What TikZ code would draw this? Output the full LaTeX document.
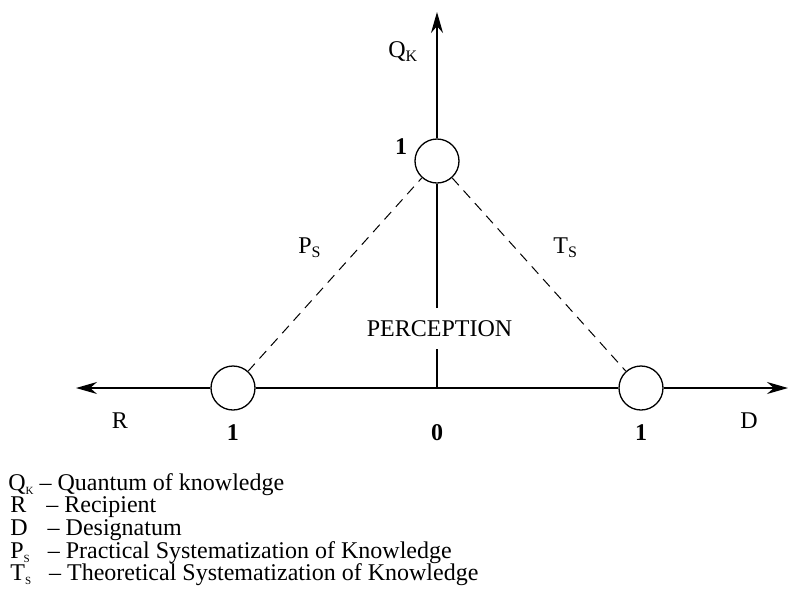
\documentclass[tikz,border=0pt]{standalone}
\usepackage{fontspec}
\setmainfont{Liberation Serif}
\usetikzlibrary{arrows.meta}
\newcommand{\lowsub}[2][8]{\raisebox{-2pt}{\fontsize{#1}{#1}\selectfont #2}}
\begin{document}
\begin{tikzpicture}[x=0.5pt, y=-0.5pt, line join=round, >={Stealth[length=10.5pt,width=6pt]}, font=\fontsize{12}{14}\selectfont,
		ring/.style={circle, draw, minimum size=22pt, inner sep=0pt, line width=0.65pt},
		axisline/.style={line width=0.65pt},
		dashlink/.style={dash pattern=on 5pt off 3.5pt, line width=0.5pt},
		num/.style={font=\fontsize{12}{14}\selectfont\bfseries},
		legend/.style={anchor=base west, inner sep=0pt}]
	\useasboundingbox (0,0) rectangle (789,596);
	% ends of the axes
	\coordinate (o) at (437,388);
	\coordinate (rend) at (76,388);
	\coordinate (dend) at (788,388);
	\coordinate (qend) at (437,12);
	% the three circles
	\node[ring] (tc) at (437,161) {};
	\node[ring] (lc) at (233,388) {};
	\node[ring] (rc) at (641,388) {};
	\node[inner xsep=0pt, inner ysep=6pt] (perc) at (439.5,328.5) {PERCEPTION};
	% axes
	\draw[axisline,->] (lc) -- (rend);
	\draw[axisline] (lc) -- (rc);
	\draw[axisline,->] (rc) -- (dend);
	\draw[axisline] (o) -- (perc.south -| o);
	\draw[axisline] (perc.north -| o) -- (tc);
	\draw[axisline,->] (tc) -- (qend);
	\draw[dashlink] (lc) -- (tc);
	\draw[dashlink] (tc) -- (rc);
	% labels
	\node[anchor=base west, inner sep=0pt] (qk) at (388,57) {Q\lowsub{K}};
	\node[anchor=base west, inner sep=0pt] (ps) at (298,253) {P\lowsub{S}};
	\node[anchor=base west, inner sep=0pt] (ts) at (553,253) {T\lowsub{S}};
	\node[num] (ntop) at (401,147) {1};
	\node[num] (nleft) at (233,433) {1};
	\node[num] (nzero) at (437,433) {0};
	\node[num] (nright) at (641,433) {1};
	\node (rlab) at (120,421) {R};
	\node (dlab) at (749,421) {D};
	% legend
	\node[legend] (leg1) at (8,490) {Q\lowsub[5.5]{K} \textendash\ Quantum of knowledge};
	\node[legend] (leg2) at (10,512) {R\hspace{10pt}\textendash\ Recipient};
	\node[legend] (leg3) at (10,535) {D\hspace{10pt}\textendash\ Designatum};
	\node[legend] (leg4) at (10,558) {P\lowsub[5.5]{S}\hspace{9pt}\textendash\ Practical Systematization of Knowledge};
	\node[legend] (leg5) at (10,580) {T\lowsub[5.5]{S}\hspace{9pt}\textendash\ Theoretical Systematization of Knowledge};
\end{tikzpicture}
\end{document}
